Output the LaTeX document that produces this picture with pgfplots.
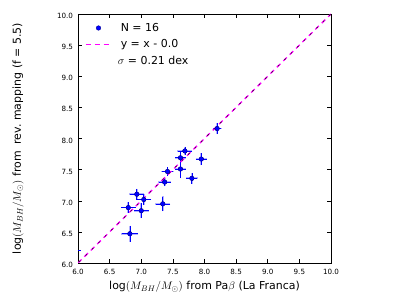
\documentclass[border=0pt]{standalone}
\usepackage{pgfplots}
\pgfplotsset{compat=1.18}
\usepackage{pgfplotstable}
\usepackage{fontspec}
\setmainfont{DejaVu Sans}
\definecolor{mag}{RGB}{255,0,255}
\definecolor{pblue}{RGB}{0,0,255}
\pgfplotsset{
  lineleg/.style={legend image code/.code={\draw[##1] (0cm,0cm) -- (0.9cm,0cm);}},
  markleg/.style={legend image code/.code={\draw[mark repeat=2,mark phase=2,##1] plot coordinates {(0cm,0cm) (0.45cm,0cm) (0.9cm,0cm)};}},
}
\pgfplotstableread{
x y ex ey
8.20 8.16 0.03 0.05
7.69 7.80 0.08 0.03
7.62 7.69 0.05 0.06
7.95 7.67 0.05 0.06
7.62 7.51 0.05 0.11
7.415 7.47 0.06 0.03
7.37 7.30 0.06 0.03
7.80 7.36 0.05 0.05
6.93 7.105 0.08 0.05
7.04 7.02 0.08 0.05
6.795 6.89 0.08 0.05
7.00 6.84 0.08 0.085
7.34 6.95 0.08 0.08
6.82 6.47 0.095 0.09
5.85 6.20 0.16 0.05
}\datatab
\begin{document}
\begin{tikzpicture}
\path[use as bounding box] (0,0) rectangle (407bp,305bp);
\begin{axis}[
  at={(78bp,42bp)}, anchor=south west,
  scale only axis, width=253bp, height=249bp,
  xmin=6, xmax=10, ymin=6, ymax=10,
  xtick={6,6.5,...,10}, ytick={6,6.5,...,10},
  xticklabel style={yshift=-2.5bp, /pgf/number format/.cd, fixed, fixed zerofill, precision=1},
  yticklabel style={yshift=-2bp, xshift=-1.5bp, /pgf/number format/.cd, fixed, fixed zerofill, precision=1},
  /pgf/number format/assume math mode=true,
  tick label style={font=\fontsize{7.2}{8}\selectfont},
  tick align=inside, major tick length=4bp,
  tick style={black, line width=0.5pt},
  axis line style={black, line width=0.8pt},
  xlabel={$\log(M_{BH}/M_\odot)$ from Pa$\beta$ (La Franca)},
  ylabel={$\log(M_{BH}/M_\odot)$ from\ \ rev.\ mapping (f = 5.5)},
  label style={font=\fontsize{11}{13}\selectfont},
  xlabel style={at={(axis description cs:0.5,-0.096)}, anchor=center},
  ylabel style={at={(axis description cs:-0.237,0.5)}, anchor=center},
  legend style={draw=none, fill=none, at={(rel axis cs:0.0,1.0)}, anchor=north west,
    xshift=4bp, yshift=-5bp,
    font=\fontsize{11}{13}\selectfont, row sep=3bp},
  legend cell align=left,
]
% halo error bars
\addplot[only marks, mark=none, forget plot,
  error bars/.cd, x dir=both, x explicit, y dir=both, y explicit,
  error bar style={pblue!30, line width=1.8pt},
  error mark options={pblue!30, mark size=2.5pt, line width=1.8pt}]
  table[x=x, y=y, x error=ex, y error=ey] {\datatab};
\addplot[only marks, mark=*, mark size=2.3pt, markleg,
  mark options={fill=pblue, draw=pblue!60!black, line width=0.4pt},
  error bars/.cd, x dir=both, x explicit, y dir=both, y explicit,
  error bar style={pblue, line width=0.7pt},
  error mark options={pblue, mark size=2.2pt, line width=0.7pt}]
  table[x=x, y=y, x error=ex, y error=ey] {\datatab};
\addlegendentry{\hspace{7bp}N = 16}
\addplot[mag, line width=1.3pt, dash pattern=on 5bp off 4bp, forget plot]
  coordinates {(6,6) (10,10)};
\addplot[black!70!mag, line width=0.8pt, dash pattern=on 2bp off 7bp, dash phase=-1.5bp, forget plot]
  coordinates {(6,6) (10,10)};
\addplot[mag, line width=1.1pt, dash pattern=on 5bp off 4bp, lineleg]
  coordinates {(6,6) (6,6)};
\addlegendentry{\hspace{7bp}y = x - 0.0}
\addlegendimage{empty legend}
\addlegendentry{\hspace{4bp}$\sigma$ = 0.21 dex}
\end{axis}
\end{tikzpicture}
\end{document}
